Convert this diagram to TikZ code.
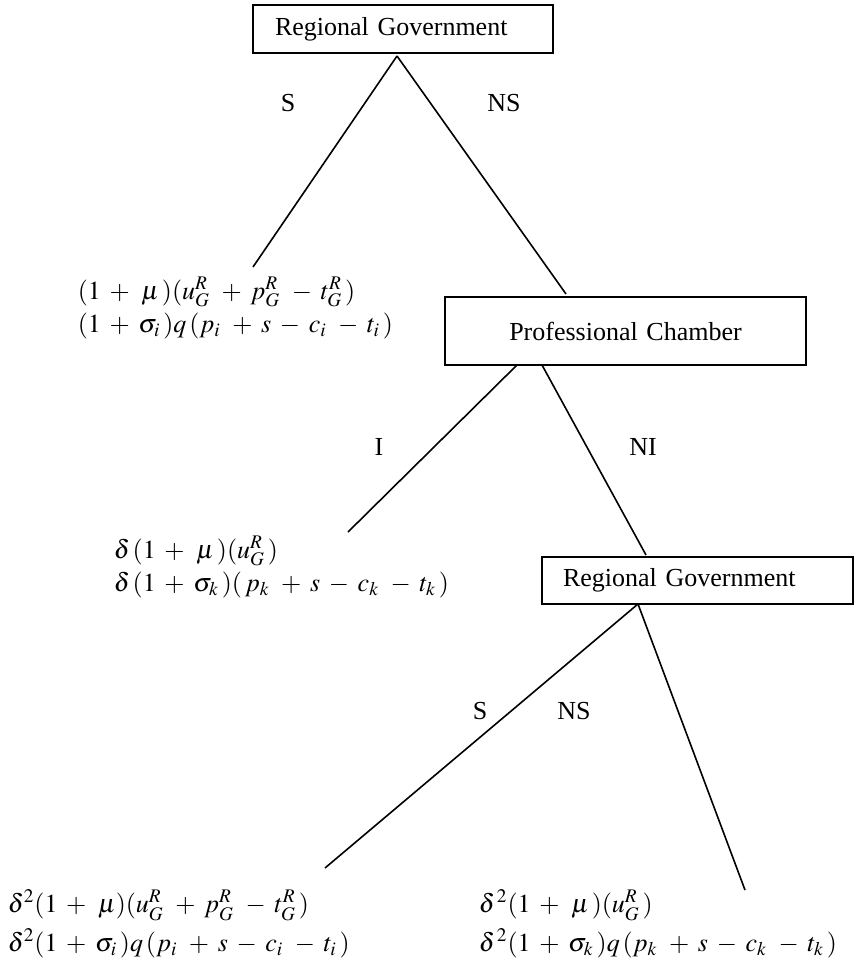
\documentclass[tikz,border=0pt]{standalone}
\usepackage{mathptmx}
\usepackage{fontspec}
\setmainfont{Liberation Serif}
\medmuskip=6mu plus 2mu minus 2mu\relax
\begin{document}
\begin{tikzpicture}[x=0.5pt,y=-0.5pt,line width=0.8pt,
      player node/.style={draw,rectangle,inner ysep=0pt,align=left,font=\fontsize{13}{15}\selectfont},
      payoff node/.style={anchor=west,align=left,inner sep=0pt,font=\fontsize{13}{16.5}\selectfont},
      move/.style={font=\fontsize{13}{15}\selectfont}]

      \useasboundingbox (0,0) rectangle (856,958);

      % players
      \node[player node,inner xsep=11pt,text width=128pt,minimum height=24pt] (rg1) at (403,29) {Regional Government};
      \node[player node,align=center,inner xsep=0pt,text width=180.5pt,minimum height=34pt] (pc) at (625.5,331) {Professional Chamber\\[8pt]};
      \node[player node,inner xsep=10.5pt,text width=134.5pt,minimum height=23.5pt] (rg2) at (697.5,580.5) {Regional Government};

      % start and end points of the moves
      \coordinate (a) at (397,56);
      \coordinate (b1) at (517,365);
      \coordinate (b2) at (542,365);
      \coordinate (c) at (638,604);
      \coordinate (e1) at (253,267);
      \coordinate (e2) at (566,294);
      \coordinate (e3) at (348,532);
      \coordinate (e4) at (646,555);
      \coordinate (e5) at (325,868);
      \coordinate (e6) at (745,890);

      \path (a) edge (e1) edge (e2)
            (b1) edge (e3)
            (b2) edge (e4)
            (c) edge (e5) edge (e6);

      % moves
      \node[move] (s1) at (288,103) {S};
      \node[move] (ns1) at (504,103) {NS};
      \node[move] (i) at (379,447) {I};
      \node[move] (ni) at (643,447) {NI};
      \node[move] (s2) at (480,711) {S};
      \node[move] (ns2) at (574,711) {NS};

      % payoffs
      \node[payoff node] (p1) at (77,308) {$(1+\,\mu\,)(u_G^R\,+p_G^R\,-t_G^R\,)$\\$(1+\sigma_i\,)q\,(p_i\,+s-c_i\,-t_i\,)$};
      \node[payoff node] (p2) at (113,567) {$\delta\,(1+\,\mu\,)(u_G^R\,)$\\$\delta\,(1+\sigma_k\,)(\,p_k\,+s-c_k\,-t_k\,)$};
      \node[payoff node] (p3) at (7,924) {$\delta^2(1+\,\mu)(u_G^R\,+p_G^R\,-t_G^R\,)$\\[3pt]$\delta^2(1+\sigma_i\,)q\,(p_i\,+s-c_i\,-t_i\,)$};
      \node[payoff node] (p4) at (478,924) {$\delta^{\,2}(1+\,\mu\,)(u_G^R\,)$\\[3pt]$\delta^{\,2}(1+\sigma_k\,)q\,(p_k\,+s-c_k\,-t_k\,)$};
\end{tikzpicture}
\end{document}
